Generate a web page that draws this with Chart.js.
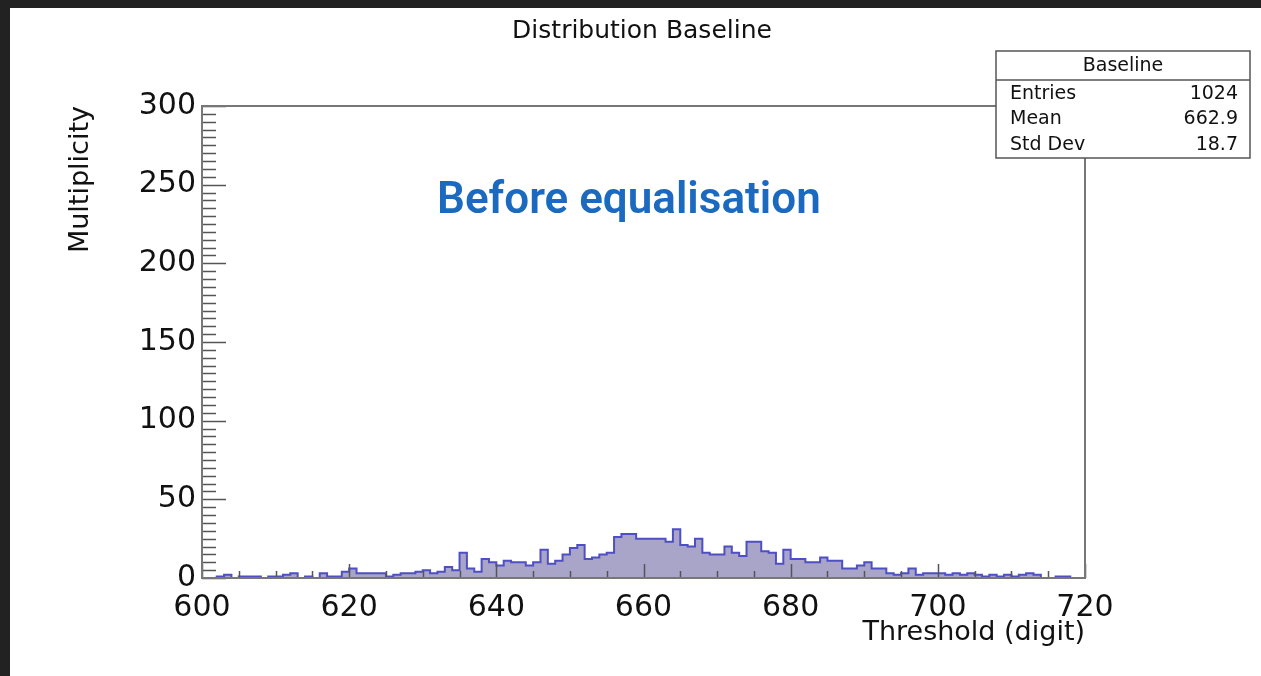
<!DOCTYPE html>
<html>
<head>
<meta charset="utf-8">
<script src="https://cdn.jsdelivr.net/npm/chart.js@4.4.1/dist/chart.umd.min.js"></script>
<style>
  html, body { margin: 0; padding: 0; background: #222; }
  #wrap { position: absolute; left: 10px; top: 8px; width: 1251px; height: 668px; background: #fff; }
</style>
</head>
<body>
<div id="wrap"><canvas id="hist" width="1251" height="668"></canvas></div>
<script>
// histogram: 1 digit wide bins from 600 to 720
const binStart = 600;
const binWidth = 1;
const counts = [
  0, 0, 0, 1, 2, 0, 1, 1, 1, 0,
  1, 1, 2, 3, 0, 1, 0, 3, 1, 1,
  4, 6, 3, 3, 3, 3, 1, 2, 3, 3,
  4, 5, 3, 4, 7, 5, 16, 6, 4, 12,
  10, 8, 11, 10, 10, 8, 10, 18, 9, 11,
  15, 19, 21, 12, 13, 15, 16, 26, 28, 28,
  25, 25, 25, 25, 23, 31, 21, 20, 25, 16,
  15, 15, 20, 16, 14, 23, 23, 17, 16, 9,
  18, 12, 12, 10, 10, 13, 11, 11, 6, 6,
  8, 10, 6, 6, 3, 2, 3, 6, 2, 3,
  3, 3, 2, 3, 2, 3, 2, 1, 2, 1,
  2, 1, 2, 3, 2, 0, 0, 1, 1, 0
];
const xTicks = [600, 620, 640, 660, 680, 700, 720];
const yTicks = [0, 50, 100, 150, 200, 250, 300];
const statLabels = ["Entries", "Mean", "Std Dev"];
const statValues = ["1024", "662.9", "18.7"];

const FONT = "'DejaVu Sans', sans-serif";

// step points: one per bin edge, last bin closed at the upper edge
const points = counts.map((c, i) => ({ x: binStart + i * binWidth, y: c }));
points.push({ x: binStart + counts.length * binWidth, y: counts[counts.length - 1] });

const rootFrame = {
  id: "rootFrame",
  afterDatasetsDraw(chart) {
    const { ctx, chartArea: a, scales } = chart;
    ctx.save();
    ctx.strokeStyle = "#555";
    ctx.lineWidth = 1.5;
    ctx.beginPath();
    for (let v = xTicks[0]; v <= xTicks[xTicks.length - 1]; v += 5) {
      const px = Math.round(scales.x.getPixelForValue(v)) + 0.5;
      const len = v % 20 === 0 ? 14 : 7;
      ctx.moveTo(px, a.bottom);
      ctx.lineTo(px, a.bottom - len);
    }
    for (let v = yTicks[0]; v <= yTicks[yTicks.length - 1]; v += 5) {
      const py = Math.round(scales.y.getPixelForValue(v)) + 0.5;
      const len = v % 50 === 0 ? 24 : 14;
      ctx.moveTo(a.left, py);
      ctx.lineTo(a.left + len, py);
    }
    ctx.stroke();
    ctx.lineWidth = 2;
    ctx.strokeStyle = "#777";
    ctx.strokeRect(a.left, a.top, a.right - a.left, a.bottom - a.top);
    ctx.restore();
  },
  afterDraw(chart) {
    const { ctx } = chart;
    ctx.save();
    // main title
    ctx.fillStyle = "#111";
    ctx.font = "25px " + FONT;
    ctx.textAlign = "center";
    ctx.textBaseline = "middle";
    ctx.fillText("Distribution Baseline", 632, 23);

    // stats box
    const bx = 986, by = 43, bw = 254, bh = 107;
    ctx.fillStyle = "#fff";
    ctx.fillRect(bx, by, bw, bh);
    ctx.strokeStyle = "#555";
    ctx.lineWidth = 1.5;
    ctx.strokeRect(bx, by, bw, bh);
    ctx.beginPath();
    ctx.moveTo(bx, by + 29);
    ctx.lineTo(bx + bw, by + 29);
    ctx.stroke();
    ctx.fillStyle = "#111";
    ctx.font = "19px " + FONT;
    ctx.fillText("Baseline", bx + bw / 2, by + 15);
    statLabels.forEach((lab, i) => {
      const ty = by + 43 + i * 25.5;
      ctx.textAlign = "left";
      ctx.fillText(lab, bx + 14, ty);
      ctx.textAlign = "right";
      ctx.fillText(statValues[i], bx + bw - 12, ty);
    });

    // annotation
    ctx.fillStyle = "#1b6ac0";
    ctx.font = "600 44px Roboto, sans-serif";
    ctx.textAlign = "left";
    ctx.textBaseline = "alphabetic";
    ctx.fillText("Before equalisation", 427, 205);
    ctx.restore();
  }
};

new Chart(document.getElementById("hist").getContext("2d"), {
  type: "line",
  data: {
    datasets: [
      {
        label: "Baseline",
        data: points,
        stepped: "after",
        fill: "origin",
        backgroundColor: "rgb(168,165,200)",
        borderColor: "#4f4fc4",
        borderWidth: 2,
        pointRadius: 0,
      },
    ],
  },
  options: {
    responsive: false,
    animation: false,
    layout: { padding: { left: 12, top: 98, right: 176, bottom: 0 } },
    plugins: {
      legend: { display: false },
      title: { display: false },
      tooltip: { enabled: false },
    },
    scales: {
      x: {
        type: "linear",
        min: xTicks[0],
        max: xTicks[xTicks.length - 1],
        grid: { display: false },
        border: { display: false },
        afterBuildTicks: (s) => { s.ticks = xTicks.map((v) => ({ value: v })); },
        afterFit: (s) => { s.height = 98; },
        ticks: {
          autoSkip: false,
          maxRotation: 0,
          padding: 4,
          color: "#111",
          font: { family: FONT, size: 30 },
        },
        title: {
          display: true,
          text: "Threshold (digit)",
          align: "end",
          color: "#111",
          font: { family: FONT, size: 27 },
          padding: { top: 0, bottom: 27 },
        },
      },
      y: {
        min: yTicks[0],
        max: yTicks[yTicks.length - 1],
        grid: { display: false },
        border: { display: false },
        afterBuildTicks: (s) => { s.ticks = yTicks.map((v) => ({ value: v })); },
        afterFit: (s) => { s.width = 180; },
        ticks: {
          padding: -2,
          color: "#111",
          font: { family: FONT, size: 30 },
        },
        title: {
          display: true,
          text: "Multiplicity",
          align: "end",
          color: "#111",
          font: { family: FONT, size: 27 },
          padding: { top: 43, bottom: 0 },
        },
      },
    },
  },
  plugins: [rootFrame],
});
</script>
</body>
</html>
